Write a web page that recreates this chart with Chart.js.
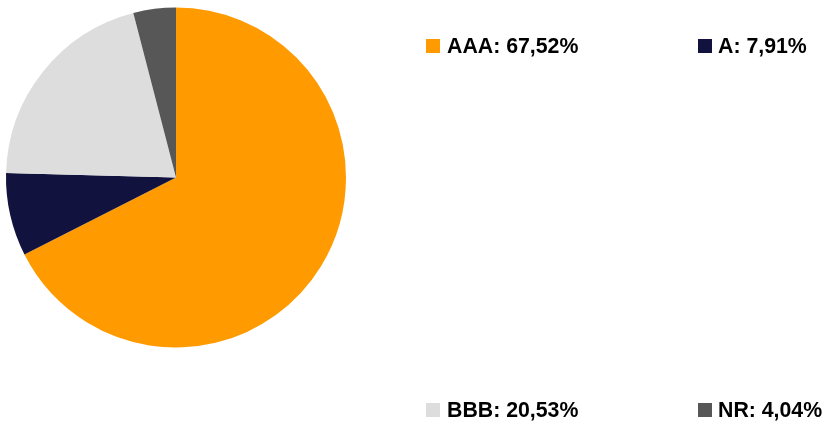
<!DOCTYPE html>
<html>
<head>
<meta charset="utf-8">
<script src="https://cdn.jsdelivr.net/npm/chart.js@4"></script>
<style>
  html, body { margin: 0; padding: 0; background: #fff; }
  #wrap { position: relative; width: 825px; height: 428px; }
</style>
</head>
<body>
<div id="wrap"><canvas id="ratingChart"></canvas></div>
<script>
// rating split
const ratings = ['AAA', 'A', 'BBB', 'NR'];
const shares = [67.52, 7.91, 20.53, 4.04];
const sliceColors = ['#FF9B00', '#12123F', '#DDDDDD', '#575757'];

// legend slots: [markerX, textX, baselineY]
const legendSlots = [
    [426, 447, 53],
    [698, 718, 53],
    [426, 447, 417],
    [698, 718, 417]
];

const legendPlugin = {
    id: 'cornerLegend',
    afterDraw(chart) {
        const ctx = chart.ctx;
        ctx.save();
        ctx.font = 'bold 21.3px "Liberation Sans", Arial, sans-serif';
        ctx.textBaseline = 'alphabetic';
        chart.data.labels.forEach((lbl, i) => {
            const [mx, tx, by] = legendSlots[i];
            ctx.fillStyle = sliceColors[i];
            ctx.fillRect(mx, by - 14, 14, 14);
            ctx.fillStyle = '#000';
            const val = chart.data.datasets[0].data[i].toFixed(2).replace('.', ',');
            ctx.fillText(lbl + ': ' + val + '%', tx, by);
        });
        ctx.restore();
    }
};

new Chart(document.getElementById('ratingChart'), {
    type: 'pie',
    data: {
        labels: ratings,
        datasets: [{
            data: shares,
            backgroundColor: sliceColors,
            borderWidth: 0,
            hoverOffset: 0
        }]
    },
    options: {
        responsive: true,
        maintainAspectRatio: false,
        animation: false,
        layout: {
            padding: { left: 6, top: 7.5, right: 479, bottom: 80.5 }
        },
        plugins: {
            legend: { display: false },
            tooltip: { enabled: false }
        }
    },
    plugins: [legendPlugin]
});
</script>
</body>
</html>
